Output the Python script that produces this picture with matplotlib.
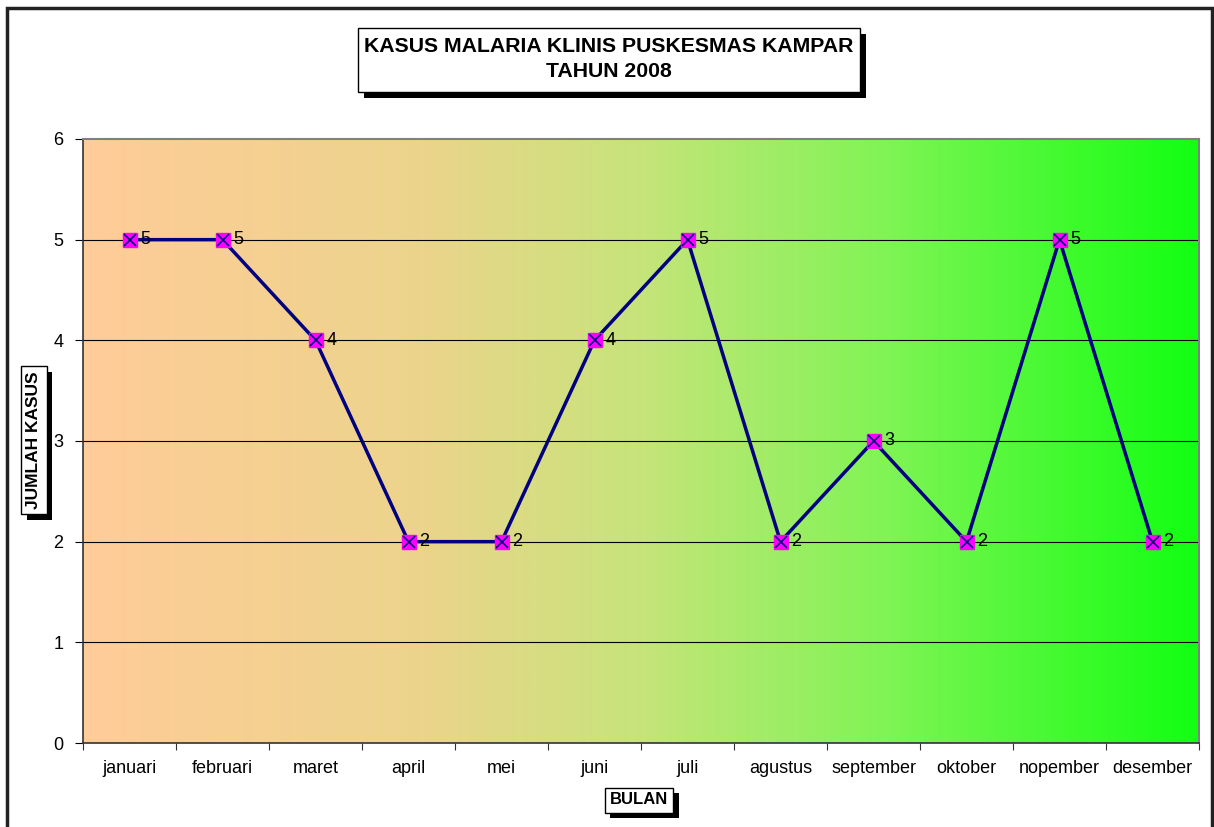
import numpy as np
import matplotlib
matplotlib.use("Agg")
import matplotlib.pyplot as plt
import matplotlib.patheffects as pe
from matplotlib.colors import LinearSegmentedColormap
from matplotlib.patches import Rectangle

plt.rcParams['font.family'] = ['Liberation Sans', 'DejaVu Sans']

months = ['januari', 'februari', 'maret', 'april', 'mei', 'juni', 'juli',
          'agustus', 'september', 'oktober', 'nopember', 'desember']
cases = [5, 5, 4, 2, 2, 4, 5, 2, 3, 2, 5, 2]
yticks = [0, 1, 2, 3, 4, 5, 6]

title = 'KASUS MALARIA KLINIS PUSKESMAS KAMPAR\nTAHUN 2008'
xlabel = 'BULAN'
ylabel = 'JUMLAH KASUS'

W, H = 1214, 827
fig = plt.figure(figsize=(W / 100, H / 100), dpi=100)
ax = fig.add_axes([83 / W, 1 - 743 / H, (1199 - 83) / W, (743 - 139) / H])

# background gradient of the plot area
grad = LinearSegmentedColormap.from_list(
    'bg', [(0.0, '#FFCC99'), (0.3, '#ECD48C'), (0.5, '#C6E47A'),
           (0.72, '#80F455'), (1.0, '#12FF12')])
ax.imshow(np.linspace(0, 1, 512)[None, :], cmap=grad, aspect='auto',
          extent=[-0.5, 11.5, 0, 6], zorder=0)

x = np.arange(len(months))
ax.set_xlim(-0.5, 11.5)
ax.set_ylim(0, 6)

for v in yticks[1:-1]:
    ax.axhline(v, color='black', lw=0.8, zorder=1)

ax.plot(x, cases, color='#000080', lw=2.5, zorder=3)
ax.plot(x, cases, ls='none', marker='s', ms=10, mfc='#FF00FF', mec='#FF00FF', zorder=4)
ax.plot(x, cases, ls='none', marker='x', ms=9, mew=1.2, color='#000080', zorder=5)

for xi, v in zip(x, cases):
    ax.annotate(str(v), (xi, v), xytext=(8, 0), textcoords='offset points',
                va='center', ha='left', fontsize=13, zorder=6)

ax.set_xticks(np.arange(-0.5, 12, 1))
ax.set_xticklabels([])
ax.set_xticks(x, minor=True)
ax.set_xticklabels(months, minor=True, fontsize=13)
ax.tick_params(axis='x', which='major', length=5, direction='out', color='#333333')
ax.tick_params(axis='x', which='minor', length=0, pad=12)
ax.set_yticks(yticks)
ax.set_yticklabels([str(v) for v in yticks], fontsize=13)
ax.tick_params(axis='y', length=6, direction='out', pad=8)

for s in ['top', 'right']:
    ax.spines[s].set_color('#808080')
    ax.spines[s].set_linewidth(1.5)
for s in ['left', 'bottom']:
    ax.spines[s].set_color('#333333')
    ax.spines[s].set_linewidth(1.2)

shadow = [pe.SimplePatchShadow(offset=(4, -4), shadow_rgbFace='black', alpha=1.0), pe.Normal()]

# title box (drawn by hand so it can be taller than the text padding allows)
tbox = Rectangle((358 / W, 1 - 92 / H), (860 - 358) / W, (92 - 28) / H,
                 transform=fig.transFigure, fc='white', ec='black', lw=1)
tbox.set_path_effects(shadow)
fig.patches.append(tbox)
fig.text(609 / W, 1 - 59 / H, title, ha='center', va='center',
         fontsize=15.3, fontweight='bold', linespacing=1.4)

xl = fig.text(639 / W, 1 - 800 / H, xlabel, ha='center', va='center',
              fontsize=12, fontweight='bold',
              bbox=dict(boxstyle='square,pad=0.3', fc='white', ec='black', lw=1))
xl.get_bbox_patch().set_path_effects(shadow)

yl = fig.text(34 / W, 1 - 440 / H, ylabel, ha='center', va='center',
              rotation=90, fontsize=12.5, fontweight='bold',
              bbox=dict(boxstyle='square,pad=0.3', fc='white', ec='black', lw=1))
yl.get_bbox_patch().set_path_effects(shadow)

# outer chart border
fig.patches.append(Rectangle((7 / W, -0.05), (1212 - 7) / W, 1.05 - 8 / H,
                             transform=fig.transFigure, fill=False,
                             ec='#222222', lw=2.5))

fig.savefig('out.png', dpi=100)
